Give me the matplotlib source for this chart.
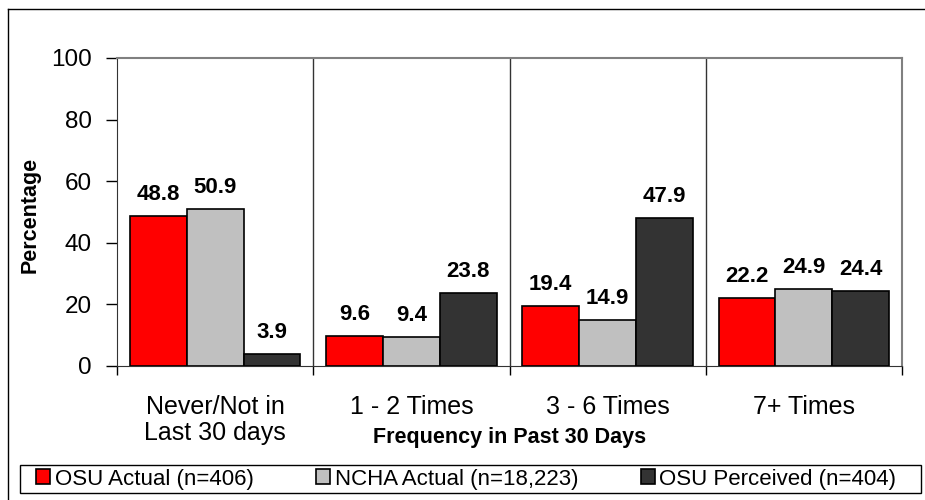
import numpy as np
import matplotlib.pyplot as plt
from matplotlib.lines import Line2D
from matplotlib.patches import Rectangle

plt.rcParams['font.family'] = ['Liberation Sans', 'DejaVu Sans']

## Data

categories = ['Never/Not in\nLast 30 days', '1 - 2 Times', '3 - 6 Times', '7+ Times']
series_names = ['OSU Actual (n=406)', 'NCHA Actual (n=18,223)', 'OSU Perceived (n=404)']
osu_actual = [48.8, 9.6, 19.4, 22.2]
ncha_actual = [50.9, 9.4, 14.9, 24.9]
osu_perceived = [3.9, 23.8, 47.9, 24.4]
y_ticks = [0, 20, 40, 60, 80, 100]

colors = ['#ff0000', '#c0c0c0', '#333333']

## Figure

fig = plt.figure(figsize=(9.25, 5), dpi=100)
ax = fig.add_axes([117/925, 1 - 366/500, (902 - 117)/925, (366 - 58)/500])

X = np.arange(len(categories))
w = 0.29
all_series = [osu_actual, ncha_actual, osu_perceived]
for j, vals in enumerate(all_series):
    pos = X + (j - 1) * w
    ax.bar(pos, vals, width=w, color=colors[j], edgecolor='black', linewidth=1.2,
           label=series_names[j], zorder=3)
    for x, v in zip(pos, vals):
        ax.annotate(f"{v:.1f}", (x, v), xytext=(0, 8), textcoords='offset points',
                    ha='center', va='bottom', fontsize=16, fontweight='bold')

ax.set_xlim(-0.5, len(categories) - 0.5)
ax.set_ylim(0, 100)
ax.set_yticks(y_ticks)
ax.tick_params(axis='y', labelsize=17.5, direction='out', length=8, width=1, pad=10)

# ticks at the group boundaries, labels in the middle
ax.set_xticks(np.arange(len(categories) + 1) - 0.5)
ax.set_xticklabels([])
ax.tick_params(axis='x', direction='out', length=6.5, width=1)
ax.set_xticks(X, minor=True)
ax.set_xticklabels(categories, minor=True, fontsize=18, linespacing=1.1)
ax.tick_params(axis='x', which='minor', length=0, pad=21)
for b in X[1:] - 0.5:
    ax.axvline(b, color='#333333', linewidth=1, zorder=2)

for s in ['left', 'bottom']:
    ax.spines[s].set_color('#333333')
for s in ['top', 'right']:
    ax.spines[s].set_color('#808080')
    ax.spines[s].set_linewidth(1.5)

ax.set_ylabel("Percentage", fontsize=15.5, fontweight='bold', va='center')
ax.yaxis.set_label_coords((30 - 117) / 785, 0.49)
ax.set_xlabel("Frequency in Past 30 Days", fontsize=15.5, fontweight='bold', va='center')
ax.xaxis.set_label_coords(0.5, (366 - 438) / 308)

# outer border
fig.add_artist(Line2D([8/925, 8/925], [0, 1 - 9/500], color='black', linewidth=1, transform=fig.transFigure))
fig.add_artist(Line2D([8/925, 1], [1 - 9/500, 1 - 9/500], color='black', linewidth=1, transform=fig.transFigure))

# legend box
fig.add_artist(Rectangle((20/925, 1 - 493/500), (921 - 20)/925, 28/500, transform=fig.transFigure,
                         facecolor='white', edgecolor='black', linewidth=1))
leg = fig.legend(loc='center left', bbox_to_anchor=(36/925, 1 - 479/500),
                 ncol=3, fontsize=16, frameon=False,
                 handlelength=0.65, handleheight=0.65, handletextpad=0.2, columnspacing=2.8,
                 borderpad=0, borderaxespad=0)

plt.savefig("out.png", dpi=100)
